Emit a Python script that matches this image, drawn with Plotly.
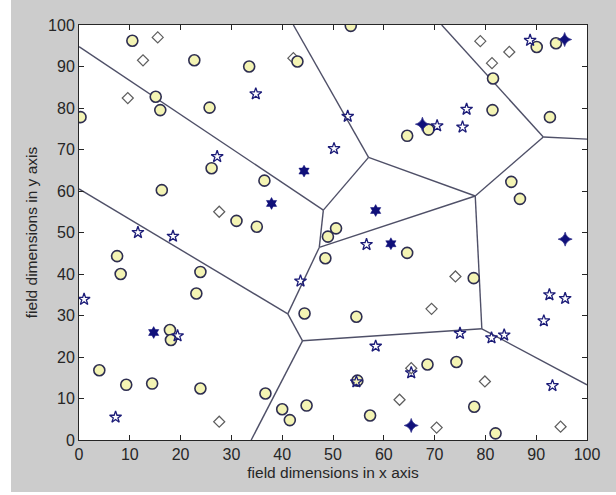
import plotly.graph_objects as go

# ---- data ----
circle_x = [10.5, 22.7, 33.5, 43.0, 15.1, 16.0, 25.7, 0.3, 26.1, 36.5, 16.3, 31.0, 35.0, 53.5, 81.5,
            90.1, 93.9, 81.4, 92.7, 68.8, 64.6, 85.1, 86.8, 50.6, 49.0, 7.5, 48.5, 8.2, 23.9, 23.1,
            44.4, 17.9, 18.1, 4.0, 9.3, 14.4, 23.9, 36.7, 40.0, 44.8, 41.5, 64.6, 77.7, 54.6, 68.6,
            74.3, 54.8, 57.3, 77.8, 82.0]
circle_y = [96.2, 91.5, 90.0, 91.2, 82.7, 79.5, 80.1, 77.8, 65.5, 62.5, 60.2, 52.8, 51.4, 99.8, 87.1,
            94.7, 95.6, 79.5, 77.8, 74.8, 73.3, 62.2, 58.1, 51.0, 49.0, 44.3, 43.8, 40.0, 40.5, 35.3,
            30.5, 26.5, 24.1, 16.8, 13.3, 13.6, 12.4, 11.2, 7.4, 8.3, 4.8, 45.1, 39.0, 29.7, 18.2,
            18.8, 14.3, 5.9, 8.0, 1.6]

diamond_x = [15.5, 12.6, 42.2, 9.6, 27.6, 79.0, 84.7, 81.3, 27.6, 74.1, 69.4, 65.4, 79.9, 63.1, 70.4, 94.8]
diamond_y = [97.0, 91.5, 92.0, 82.4, 55.0, 96.1, 93.5, 90.8, 4.4, 39.4, 31.6, 17.3, 14.1, 9.7, 3.0, 3.2]

star_x = [34.8, 27.2, 50.2, 88.8, 52.9, 76.3, 70.5, 75.5, 11.6, 18.5, 43.6, 1.0, 19.4, 7.2, 56.6,
          92.6, 95.7, 91.5, 75.0, 81.2, 83.7, 58.4, 65.4, 54.6, 93.2]
star_y = [83.4, 68.3, 70.2, 96.3, 78.0, 79.7, 75.7, 75.4, 50.0, 49.1, 38.3, 33.9, 25.1, 5.5, 47.1,
          35.0, 34.1, 28.7, 25.7, 24.6, 25.3, 22.6, 16.2, 14.0, 13.1]

head_x = [44.3, 37.9, 58.4, 14.7, 61.4]
head_y = [64.8, 57.0, 55.3, 25.9, 47.3]

dstar_x = [95.6, 67.6, 95.7, 65.4]
dstar_y = [96.5, 76.1, 48.4, 3.5]

# Voronoi edges: (x0, y0, x1, y1)
edge_x0 = [0, 0, 48.1, 47.3, 41.1, 44.0, 44.0, 79.3, 79.3, 47.3, 78.0, 91.4, 91.4, 78.0, 57.0, 57.0]
edge_y0 = [94.8, 60.5, 55.4, 46.4, 30.4, 23.9, 23.9, 26.8, 26.8, 46.4, 58.8, 73.0, 73.0, 58.8, 68.1, 68.1]
edge_x1 = [48.1, 41.1, 47.3, 41.1, 44.0, 33.9, 79.3, 78.0, 100, 78.0, 91.4, 100, 71.4, 57.0, 42.2, 48.1]
edge_y1 = [55.4, 30.4, 46.4, 30.4, 23.9, 0, 26.8, 58.8, 13.3, 58.8, 73.0, 72.5, 100, 68.1, 100, 55.4]

x_ticks = list(range(0, 101, 10))
y_ticks = list(range(0, 101, 10))

# ---- figure ----
fig = go.Figure()

lx, ly = [], []
for a, b, c, d in zip(edge_x0, edge_y0, edge_x1, edge_y1):
    lx += [a, c, None]
    ly += [b, d, None]
fig.add_trace(go.Scatter(x=lx, y=ly, mode="lines",
                         line=dict(color="#4f5068", width=1.4), hoverinfo="skip"))

fig.add_trace(go.Scatter(x=diamond_x, y=diamond_y, mode="markers",
                         marker=dict(symbol="diamond", size=8.5, color="white",
                                     line=dict(color="#5e5e5e", width=1.2))))
fig.add_trace(go.Scatter(x=circle_x, y=circle_y, mode="markers",
                         marker=dict(symbol="circle", size=11, color="#f4f4b4",
                                     line=dict(color="#2e2e50", width=1.6))))
fig.add_trace(go.Scatter(x=star_x, y=star_y, mode="markers",
                         marker=dict(symbol="star-open", size=9, color="#1c1c78",
                                     line=dict(width=1.3))))
fig.add_trace(go.Scatter(x=head_x, y=head_y, mode="markers",
                         marker=dict(symbol="hexagram", size=9, color="#10107a",
                                     line=dict(color="#10107a", width=0.5))))
fig.add_trace(go.Scatter(x=dstar_x, y=dstar_y, mode="markers",
                         marker=dict(symbol="star-diamond", size=10, color="#10107a",
                                     line=dict(color="#3a3a90", width=0.8))))

# figure gray background (white strip on the left like the reference)
fig.add_shape(type="rect", xref="paper", yref="paper",
              x0=(11 - 79) / 508, x1=(620 - 79) / 508,
              y0=(440 - 492) / 415, y1=(440 + 5) / 415,
              fillcolor="#cccccc", line=dict(width=0), layer="below")
fig.add_shape(type="rect", xref="paper", yref="paper", x0=0, x1=1, y0=0, y1=1,
              fillcolor="white", line=dict(width=0), layer="below")

font_family = "Liberation Sans, Arial"
axis_common = dict(showgrid=False, zeroline=False, showline=True, linecolor="#262626",
                   linewidth=1, mirror="ticks", ticks="inside", ticklen=5,
                   tickcolor="#262626", tickfont=dict(family=font_family, size=16, color="#262626"))
fig.update_layout(
    width=616, height=495,
    margin=dict(l=79, r=29, t=25, b=55),
    paper_bgcolor="white", plot_bgcolor="white",
    showlegend=False,
    xaxis=dict(range=[0, 100], tickvals=x_ticks, ticktext=[str(v) for v in x_ticks],
               title=dict(text="field dimensions in x axis", standoff=4,
                          font=dict(family=font_family, size=15.5, color="#262626")),
               **axis_common),
    yaxis=dict(range=[0, 100], tickvals=y_ticks, ticktext=[str(v) for v in y_ticks],
               title=dict(text="field dimensions in y axis", standoff=6,
                          font=dict(family=font_family, size=15.5, color="#262626")),
               **axis_common),
)

fig.write_html("out.html")
